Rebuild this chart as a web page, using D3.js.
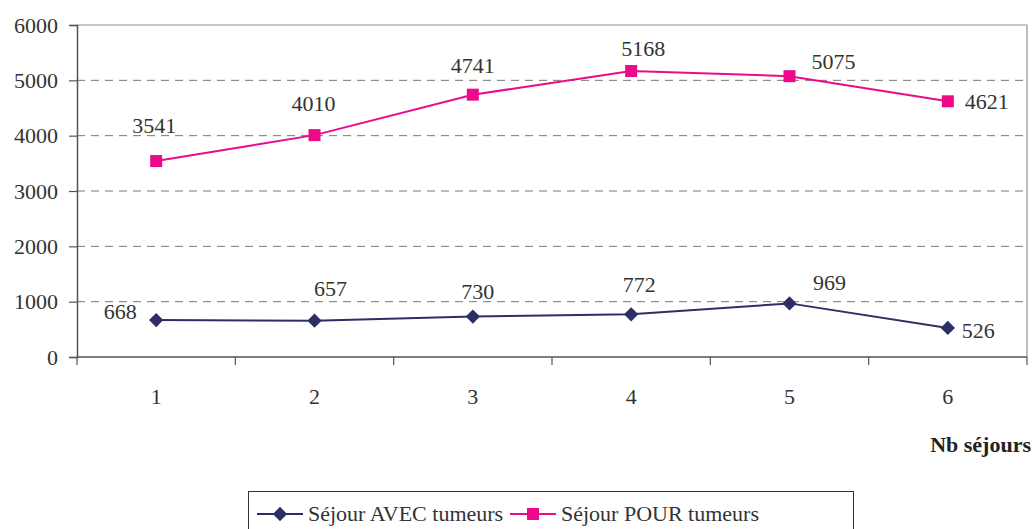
<!DOCTYPE html>
<html>
<head>
<meta charset="utf-8">
<script src="https://cdn.jsdelivr.net/npm/d3@7/dist/d3.min.js"></script>
<style>
  html, body { margin: 0; padding: 0; background: #fff; }
  svg { display: block; }
</style>
</head>
<body>
<svg id="chart" width="1034" height="529"></svg>
<script>
// Number of stays (x categories)
const categories = ["1", "2", "3", "4", "5", "6"];
// Stays with tumours
const avecValues = [668, 657, 730, 772, 969, 526];
// Stays for tumours
const pourValues = [3541, 4010, 4741, 5168, 5075, 4621];
const yTicks = [0, 1000, 2000, 3000, 4000, 5000, 6000];
const seriesNames = ["Séjour AVEC tumeurs", "Séjour POUR tumeurs"];
const xTitle = "Nb séjours";

const FONT = "'Liberation Serif', 'DejaVu Serif', 'Times New Roman', Times, serif";
const FS = 22;

// label placement relative to each marker (dx, dy, anchor)
const avecLabelPos = [
  [-36, -1, "middle"], [16, -25, "middle"], [5, -18, "middle"],
  [8, -22, "middle"], [40, -13, "middle"], [14, 10, "start"]
];
const pourLabelPos = [
  [-2, -28, "middle"], [-1, -24, "middle"], [0, -22, "middle"],
  [12, -15, "middle"], [44, -7, "middle"], [17, 8, "start"]
];

const svg = d3.select("#chart").attr("font-family", FONT);
const m = { left: 77, right: 1027, top: 25, bottom: 357 };

const x = d3.scaleBand().domain(categories).range([m.left, m.right]).padding(0);
const y = d3.scaleLinear().domain([0, 6000]).range([m.bottom, m.top]);
const cx = d => x(d) + x.bandwidth() / 2;

function txt(sel) {
  return sel.attr("font-family", FONT).attr("font-size", FS).attr("fill", "#333");
}

// dashed gridlines
svg.append("g").selectAll("line")
  .data(yTicks.filter(t => t > 0 && t < 6000))
  .join("line")
  .attr("x1", m.left).attr("x2", m.right)
  .attr("y1", d => y(d)).attr("y2", d => y(d))
  .attr("stroke", "#777").attr("stroke-width", 1)
  .attr("stroke-dasharray", "8,6");

// plot frame (top and right)
svg.append("path")
  .attr("d", `M${m.left},${y(6000)}H${m.right}V${m.bottom}`)
  .attr("fill", "none").attr("stroke", "#998f8f").attr("stroke-width", 1.2);

// y axis
const yAxis = svg.append("g")
  .attr("transform", `translate(${m.left},0)`)
  .call(d3.axisLeft(y).tickValues(yTicks).tickSize(8).tickPadding(11).tickFormat(d3.format("d")));
yAxis.attr("font-family", FONT).attr("font-size", FS);
yAxis.select(".domain").attr("stroke", "#555").attr("stroke-width", 1.5);
yAxis.selectAll(".tick line").attr("stroke", "#555").attr("stroke-width", 1.2);
yAxis.selectAll(".tick text").call(txt);

// x axis: ticks sit between categories
const xAxisG = svg.append("g").attr("transform", `translate(0,${m.bottom})`);
xAxisG.append("line")
  .attr("x1", m.left).attr("x2", m.right)
  .attr("stroke", "#555").attr("stroke-width", 1.5);
xAxisG.selectAll("line.tk")
  .data(categories.map(c => x(c)).concat([m.right]))
  .join("line").attr("class", "tk")
  .attr("x1", d => d).attr("x2", d => d).attr("y1", 0).attr("y2", 8)
  .attr("stroke", "#555").attr("stroke-width", 1.2);
xAxisG.selectAll("text")
  .data(categories).join("text")
  .attr("x", d => cx(d)).attr("y", 47)
  .attr("text-anchor", "middle")
  .call(txt).text(d => d);

// x title
svg.append("text")
  .attr("x", 1031).attr("y", 452).attr("text-anchor", "end")
  .call(txt).attr("font-weight", "bold").attr("fill", "#222")
  .text(xTitle);

const line = d3.line().x((d, i) => cx(categories[i])).y(d => y(d));
const navy = "#2e2e66", pink = "#ec0a8a";

const diamond = d3.symbol().type(d3.symbolDiamond2).size(130);

function drawSeries(values, color, marker, labelPos) {
  svg.append("path").datum(values)
    .attr("d", line).attr("fill", "none")
    .attr("stroke", color).attr("stroke-width", 2);
  const g = svg.append("g");
  values.forEach((v, i) => {
    const px = cx(categories[i]), py = y(v);
    if (marker === "diamond") {
      g.append("path").attr("d", diamond())
        .attr("transform", `translate(${px},${py})`).attr("fill", color);
    } else {
      g.append("rect").attr("x", px - 6).attr("y", py - 6)
        .attr("width", 12).attr("height", 12).attr("fill", color);
    }
    const [dx, dy, anchor] = labelPos[i];
    g.append("text")
      .attr("x", px + dx).attr("y", py + dy)
      .attr("text-anchor", anchor)
      .call(txt)
      .text(v);
  });
}

drawSeries(avecValues, navy, "diamond", avecLabelPos);
drawSeries(pourValues, pink, "square", pourLabelPos);

// legend
const lg = svg.append("g");
lg.append("rect").attr("x", 248.5).attr("y", 491.5).attr("width", 605).attr("height", 45)
  .attr("fill", "#fff").attr("stroke", "#333").attr("stroke-width", 1);
const items = [
  { name: seriesNames[0], color: navy, marker: "diamond", x0: 257 },
  { name: seriesNames[1], color: pink, marker: "square", x0: 510 }
];
items.forEach(it => {
  const ly = 514;
  lg.append("line").attr("x1", it.x0).attr("x2", it.x0 + 46)
    .attr("y1", ly).attr("y2", ly).attr("stroke", it.color).attr("stroke-width", 2);
  const mx = it.x0 + 23;
  if (it.marker === "diamond") {
    lg.append("path").attr("d", diamond()).attr("transform", `translate(${mx},${ly})`).attr("fill", it.color);
  } else {
    lg.append("rect").attr("x", mx - 6).attr("y", ly - 6).attr("width", 12).attr("height", 12).attr("fill", it.color);
  }
  lg.append("text").attr("x", it.x0 + 51).attr("y", ly + 7)
    .call(txt).text(it.name);
});
</script>
</body>
</html>
